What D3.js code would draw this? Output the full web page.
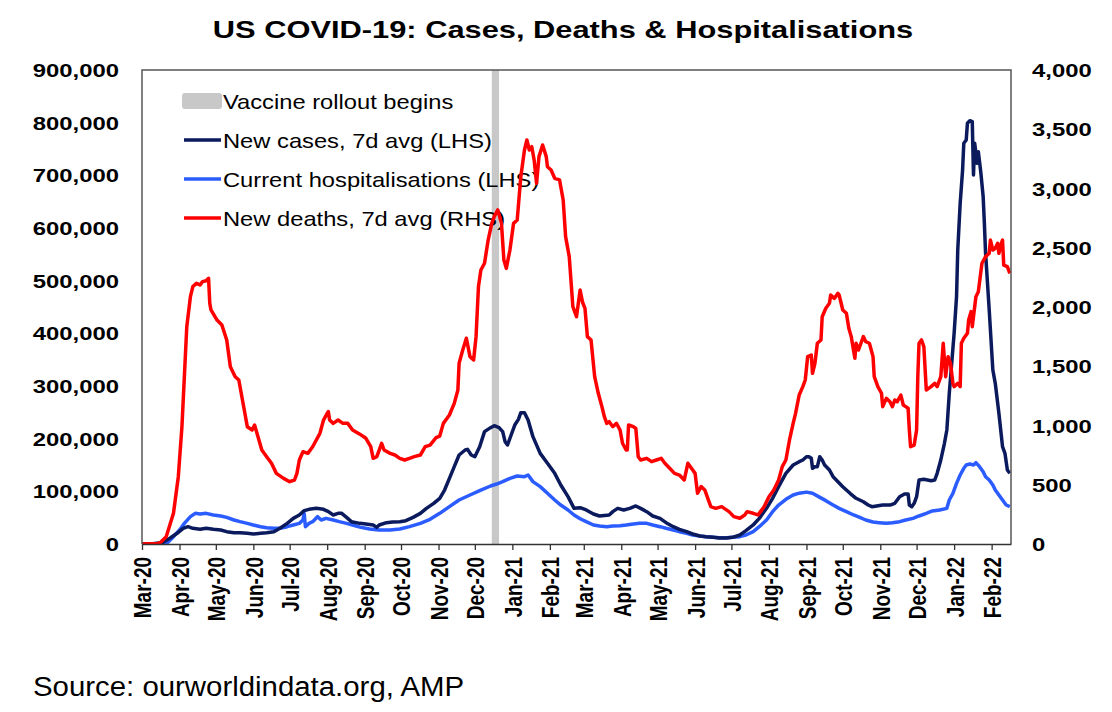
<!DOCTYPE html>
<html><head><meta charset="utf-8">
<script src="https://cdn.jsdelivr.net/npm/d3@7"></script>
<style>
body{margin:0;background:#fff}
svg{display:block}
text{font-family:"Liberation Sans",Arial,sans-serif;fill:#000}
</style>
</head><body>
<svg id="chart" width="1112" height="712"></svg>
<script>
// ---------- DATA ----------
const titleText = "US COVID-19: Cases, Deaths & Hospitalisations";
const sourceText = "Source: ourworldindata.org, AMP";
const leftTicks = [0,100000,200000,300000,400000,500000,600000,700000,800000,900000];
const rightTicks = [0,500,1000,1500,2000,2500,3000,3500,4000];
const dateStart = "2020-03-01";
const dateEnd = "2022-02-17";
const vaccineStart = "2020-12-15";
const vaccineEnd = "2020-12-21";
const legendLabels = ["Vaccine rollout begins","New cases, 7d avg (LHS)","Current hospitalisations (LHS)","New deaths, 7d avg (RHS)"];

// New cases, 7d avg (LHS)
const cases = [
["2020-03-01",0],["2020-03-10",500],["2020-03-18",3000],["2020-03-24",10800],["2020-03-30",20300],
["2020-04-04",29800],["2020-04-08",32900],["2020-04-12",29800],["2020-04-18",27900],["2020-04-23",29800],
["2020-04-29",27900],["2020-05-05",26600],["2020-05-10",23400],["2020-05-16",21500],["2020-05-21",21500],
["2020-05-27",20300],["2020-06-01",19000],["2020-06-07",20300],["2020-06-12",21500],["2020-06-18",23400],
["2020-06-23",29800],["2020-06-29",39200],["2020-07-04",48700],["2020-07-09",55100],["2020-07-13",63300],
["2020-07-17",65800],["2020-07-23",67700],["2020-07-29",65800],["2020-08-02",61400],["2020-08-06",55100],
["2020-08-10",58200],["2020-08-13",58200],["2020-08-17",50600],["2020-08-21",42400],["2020-08-28",39200],
["2020-09-02",38000],["2020-09-08",36100],["2020-09-11",31600],["2020-09-13",36100],["2020-09-19",40500],
["2020-09-24",41800],["2020-09-30",42400],["2020-10-05",44300],["2020-10-11",50600],["2020-10-17",58200],
["2020-10-22",67700],["2020-10-28",77200],["2020-11-02",86700],["2020-11-06",102500],["2020-11-10",124700],
["2020-11-14",146800],["2020-11-18",169000],["2020-11-23",178500],["2020-11-25",179700],["2020-11-28",169000],
["2020-12-01",165800],["2020-12-05",184800],["2020-12-09",213300],["2020-12-14",220900],["2020-12-17",224700],
["2020-12-21",220900],["2020-12-24",213300],["2020-12-26",194300],["2020-12-28",188000],["2020-12-31",207000],
["2021-01-03",225900],["2021-01-06",236700],["2021-01-08",249400],["2021-01-11",249400],["2021-01-14",235400],
["2021-01-18",203800],["2021-01-24",172100],["2021-01-30",153200],["2021-02-05",134200],["2021-02-10",112000],
["2021-02-16",89900],["2021-02-21",67700],["2021-02-26",69000],["2021-03-03",64600],["2021-03-09",57000],
["2021-03-14",53200],["2021-03-22",55100],["2021-03-25",61400],["2021-03-29",67700],["2021-04-03",64600],
["2021-04-08",67700],["2021-04-13",72200],["2021-04-17",67700],["2021-04-22",61400],["2021-04-27",53200],
["2021-05-03",48700],["2021-05-08",40500],["2021-05-14",32900],["2021-05-19",27900],["2021-05-25",23400],
["2021-05-30",19000],["2021-06-05",15200],["2021-06-10",13900],["2021-06-16",12700],["2021-06-21",11400],
["2021-06-27",11400],["2021-07-02",12700],["2021-07-08",17100],["2021-07-13",25300],["2021-07-19",36100],
["2021-07-24",48700],["2021-07-30",67700],["2021-08-04",86700],["2021-08-09",108900],["2021-08-15",134200],
["2021-08-21",150000],["2021-08-26",156300],["2021-08-29",159500],["2021-09-01",165800],["2021-09-03",165800],
["2021-09-05",162700],["2021-09-06",143700],["2021-09-08",146800],["2021-09-10",146800],["2021-09-12",165800],
["2021-09-14",159500],["2021-09-16",150000],["2021-09-20",140500],["2021-09-23",127800],["2021-09-27",118300],
["2021-10-01",108800],["2021-10-07",96300],["2021-10-12",86800],["2021-10-18",80300],["2021-10-22",74000],
["2021-10-25",70800],["2021-10-29",72200],["2021-11-03",74000],["2021-11-09",74000],["2021-11-13",77300],
["2021-11-17",89800],["2021-11-21",94900],["2021-11-24",94900],["2021-11-25",74000],["2021-11-27",70800],
["2021-11-29",77300],["2021-12-01",89800],["2021-12-03",121500],["2021-12-07",122800],["2021-12-13",120200],
["2021-12-16",121500],["2021-12-18",134200],["2021-12-21",159500],["2021-12-24",191200],["2021-12-26",216500],
["2021-12-28",286100],["2021-12-30",343100],["2022-01-01",400100],["2022-01-03",469600],["2022-01-04",558200],
["2022-01-06",646900],["2022-01-08",710100],["2022-01-09",760800],["2022-01-11",767100],["2022-01-12",798800],
["2022-01-14",803800],["2022-01-16",801800],["2022-01-17",700600],["2022-01-18",760800],["2022-01-19",741800],
["2022-01-20",722800],["2022-01-21",744900],["2022-01-23",706900],["2022-01-25",659500],["2022-01-26",608800],
["2022-01-27",551900],["2022-01-30",444300],["2022-02-02",330400],["2022-02-04",305100],["2022-02-07",248100],
["2022-02-10",184800],["2022-02-12",172200],["2022-02-14",140500],["2022-02-16",134200]
];

// Current hospitalisations (LHS)
const hospital = [
["2020-03-01",0],["2020-03-21",0],["2020-03-27",13900],["2020-04-01",26600],["2020-04-05",39200],
["2020-04-10",51900],["2020-04-14",58200],["2020-04-18",57000],["2020-04-23",58200],["2020-04-29",55100],
["2020-05-05",53200],["2020-05-10",50600],["2020-05-16",45600],["2020-05-21",42400],["2020-05-27",39200],
["2020-06-01",36100],["2020-06-07",32900],["2020-06-12",31000],["2020-06-18",29800],["2020-06-23",29800],
["2020-06-29",32900],["2020-07-04",36100],["2020-07-09",39200],["2020-07-12",45600],["2020-07-13",58200],
["2020-07-14",32900],["2020-07-17",39200],["2020-07-20",42400],["2020-07-24",51900],["2020-07-27",45600],
["2020-07-31",48700],["2020-08-06",45600],["2020-08-11",42400],["2020-08-17",39200],["2020-08-22",36100],
["2020-08-28",32000],["2020-09-05",28500],["2020-09-13",26600],["2020-09-22",26600],["2020-09-30",28500],
["2020-10-08",32900],["2020-10-17",39200],["2020-10-25",46800],["2020-11-02",58200],["2020-11-10",70900],
["2020-11-18",83500],["2020-11-27",93000],["2020-12-05",101300],["2020-12-14",110100],["2020-12-19",113900],
["2020-12-24",118400],["2020-12-30",124700],["2021-01-05",129100],["2021-01-11",127900],["2021-01-14",131000],
["2021-01-18",118400],["2021-01-24",108900],["2021-01-30",96200],["2021-02-05",83500],["2021-02-10",74000],
["2021-02-16",64600],["2021-02-21",55100],["2021-02-26",48000],["2021-03-03",42400],["2021-03-09",36100],
["2021-03-14",34200],["2021-03-20",32900],["2021-03-25",34200],["2021-03-31",34800],["2021-04-05",36100],
["2021-04-11",38000],["2021-04-16",39200],["2021-04-22",39200],["2021-04-27",36100],["2021-05-03",32900],
["2021-05-08",29800],["2021-05-14",26600],["2021-05-19",23400],["2021-05-25",20300],["2021-05-30",17100],
["2021-06-05",15200],["2021-06-10",13900],["2021-06-16",12700],["2021-06-21",12000],["2021-06-27",12000],
["2021-07-02",12700],["2021-07-08",13900],["2021-07-13",17100],["2021-07-19",23400],["2021-07-24",32900],
["2021-07-30",45600],["2021-08-04",61400],["2021-08-09",74000],["2021-08-15",84800],["2021-08-21",93000],
["2021-08-26",96500],["2021-09-01",98500],["2021-09-06",96200],["2021-09-11",89900],["2021-09-17",82300],
["2021-09-23",74000],["2021-09-28",67700],["2021-10-04",61400],["2021-10-10",55100],["2021-10-15",50600],
["2021-10-20",45600],["2021-10-26",41800],["2021-10-31",40500],["2021-11-06",39200],["2021-11-11",40500],
["2021-11-17",42400],["2021-11-22",45600],["2021-11-28",48700],["2021-12-03",53200],["2021-12-09",58200],
["2021-12-14",62700],["2021-12-20",64600],["2021-12-26",67700],["2021-12-28",83500],["2021-12-31",96200],
["2022-01-03",115200],["2022-01-06",131000],["2022-01-09",143700],["2022-01-11",150000],["2022-01-14",151900],
["2022-01-17",150000],["2022-01-19",154400],["2022-01-22",146800],["2022-01-25",137300],["2022-01-27",127800],
["2022-01-30",121500],["2022-02-02",112000],["2022-02-04",102500],["2022-02-07",93000],["2022-02-10",83500],
["2022-02-13",74000],["2022-02-16",70900]
];

// New deaths, 7d avg (RHS)
const deaths = [
["2020-03-01",0],["2020-03-14",5],["2020-03-16",11],["2020-03-21",62],["2020-03-27",259],["2020-03-31",568],
["2020-04-03",990],["2020-04-05",1412],["2020-04-07",1834],["2020-04-10",2087],["2020-04-12",2172],
["2020-04-15",2200],["2020-04-18",2186],["2020-04-20",2214],["2020-04-23",2222],["2020-04-25",2242],
["2020-04-26",2031],["2020-04-27",1975],["2020-05-02",1890],["2020-05-06",1848],["2020-05-10",1722],
["2020-05-13",1496],["2020-05-17",1412],["2020-05-20",1384],["2020-05-23",1215],["2020-05-25",1103],
["2020-05-27",990],["2020-05-31",962],["2020-06-02",1004],["2020-06-04",934],["2020-06-08",793],
["2020-06-12",737],["2020-06-16",681],["2020-06-20",596],["2020-06-26",554],["2020-07-01",526],
["2020-07-05",540],["2020-07-07",596],["2020-07-09",709],["2020-07-12",779],["2020-07-16",765],
["2020-07-20",821],["2020-07-26",934],["2020-07-29",1046],["2020-08-01",1103],["2020-08-02",1117],
["2020-08-03",1046],["2020-08-06",1018],["2020-08-10",1046],["2020-08-14",1018],["2020-08-18",1018],
["2020-08-22",962],["2020-08-28",927],["2020-09-02",892],["2020-09-06",821],["2020-09-08",723],
["2020-09-11",737],["2020-09-13",793],["2020-09-15",850],["2020-09-17",793],["2020-09-22",765],
["2020-09-26",751],["2020-09-30",723],["2020-10-04",709],["2020-10-08",723],["2020-10-12",737],
["2020-10-17",751],["2020-10-21",821],["2020-10-25",835],["2020-10-30",897],["2020-11-02",911],
["2020-11-05",1018],["2020-11-10",1089],["2020-11-14",1187],["2020-11-17",1300],["2020-11-18",1525],
["2020-11-21",1637],["2020-11-24",1736],["2020-11-27",1581],["2020-11-30",1553],["2020-12-02",1750],
["2020-12-04",2172],["2020-12-06",2312],["2020-12-09",2369],["2020-12-12",2565],["2020-12-15",2706],
["2020-12-17",2762],["2020-12-20",2819],["2020-12-23",2706],["2020-12-25",2397],["2020-12-27",2326],
["2020-12-30",2481],["2021-01-02",2706],["2021-01-05",2734],["2021-01-08",3100],["2021-01-11",3325],
["2021-01-13",3409],["2021-01-15",3325],["2021-01-17",3353],["2021-01-19",3241],["2021-01-21",3044],
["2021-01-23",3269],["2021-01-26",3367],["2021-01-29",3269],["2021-01-30",3184],["2021-02-02",3156],
["2021-02-05",3086],["2021-02-09",3072],["2021-02-12",2903],["2021-02-14",2594],["2021-02-17",2425],
["2021-02-20",2003],["2021-02-23",1918],["2021-02-26",2143],["2021-02-28",2040],["2021-03-02",1989],
["2021-03-04",1750],["2021-03-07",1722],["2021-03-10",1412],["2021-03-13",1272],["2021-03-16",1159],
["2021-03-18",1075],["2021-03-20",1018],["2021-03-22",1032],["2021-03-25",990],["2021-03-28",1018],
["2021-03-31",962],["2021-04-02",850],["2021-04-05",793],["2021-04-06",793],["2021-04-07",1004],
["2021-04-11",990],["2021-04-13",976],["2021-04-15",737],["2021-04-17",709],["2021-04-22",723],
["2021-04-26",695],["2021-04-30",709],["2021-05-04",723],["2021-05-07",681],["2021-05-11",639],
["2021-05-15",596],["2021-05-19",582],["2021-05-23",540],["2021-05-26",681],["2021-05-29",639],
["2021-06-01",596],["2021-06-03",428],["2021-06-06",484],["2021-06-09",456],["2021-06-12",371],
["2021-06-14",315],["2021-06-18",301],["2021-06-23",315],["2021-06-25",301],["2021-06-29",273],
["2021-07-03",231],["2021-07-08",217],["2021-07-12",245],["2021-07-14",273],["2021-07-19",259],
["2021-07-23",245],["2021-07-25",273],["2021-07-28",315],["2021-08-01",399],["2021-08-05",456],
["2021-08-09",540],["2021-08-12",653],["2021-08-15",709],["2021-08-18",878],["2021-08-21",1018],
["2021-08-23",1103],["2021-08-26",1258],["2021-08-29",1328],["2021-08-31",1384],["2021-09-02",1581],
["2021-09-05",1595],["2021-09-06",1440],["2021-09-08",1525],["2021-09-10",1694],["2021-09-13",1722],
["2021-09-14",1918],["2021-09-17",1989],["2021-09-20",2031],["2021-09-21",2101],["2021-09-24",2073],
["2021-09-27",2115],["2021-09-28",2101],["2021-10-01",1975],["2021-10-04",1947],["2021-10-06",1820],
["2021-10-08",1750],["2021-10-11",1567],["2021-10-12",1694],["2021-10-14",1637],["2021-10-16",1694],
["2021-10-18",1750],["2021-10-20",1707],["2021-10-23",1694],["2021-10-26",1581],["2021-10-27",1412],
["2021-10-30",1328],["2021-11-02",1272],["2021-11-03",1159],["2021-11-06",1229],["2021-11-09",1201],
["2021-11-11",1159],["2021-11-13",1215],["2021-11-15",1201],["2021-11-18",1257],["2021-11-20",1173],
["2021-11-22",1159],["2021-11-24",1145],["2021-11-25",962],["2021-11-26",821],["2021-11-29",835],
["2021-12-01",962],["2021-12-02",1412],["2021-12-03",1694],["2021-12-05",1722],["2021-12-07",1665],
["2021-12-09",1300],["2021-12-13",1328],["2021-12-16",1356],["2021-12-18",1328],["2021-12-21",1412],
["2021-12-23",1694],["2021-12-25",1412],["2021-12-27",1581],["2021-12-29",1525],["2021-12-31",1356],
["2022-01-01",1328],["2022-01-04",1356],["2022-01-06",1328],["2022-01-07",1694],["2022-01-09",1736],
["2022-01-12",1778],["2022-01-13",1890],["2022-01-15",1961],["2022-01-16",1834],["2022-01-19",2087],
["2022-01-21",2129],["2022-01-24",2369],["2022-01-27",2425],["2022-01-30",2453],["2022-01-31",2565],
["2022-02-02",2481],["2022-02-04",2495],["2022-02-06",2537],["2022-02-07",2453],["2022-02-09",2537],
["2022-02-10",2565],["2022-02-11",2354],["2022-02-14",2340],["2022-02-16",2284]
];

// ---------- STYLE ----------
const COL_CASES = "#0b1a5c", COL_HOSP = "#2a5cff", COL_DEATH = "#ff0000", COL_VAX = "#c8c8c8";
const M = {l:142, r:1011, t:70, b:544};
const LW = 3.5;

const svg = d3.select("#chart");
svg.append("rect").attr("width",1112).attr("height",712).attr("fill","#fff");

const parse = d3.utcParse("%Y-%m-%d");
const x = d3.scaleUtc().domain([parse(dateStart), parse(dateEnd)]).range([M.l, M.r]);
const yL = d3.scaleLinear().domain([0, 900000]).range([M.b, M.t]);
const yR = d3.scaleLinear().domain([0, 4000]).range([M.b, M.t]);

// title
svg.append("text").attr("transform", "translate(563,38) scale(1.34,1)")
  .attr("text-anchor","middle").attr("font-size",23).attr("font-weight","bold").text(titleText);

// vaccine band
svg.append("rect").attr("x", x(parse(vaccineStart))).attr("y", M.t)
  .attr("width", x(parse(vaccineEnd)) - x(parse(vaccineStart))).attr("height", M.b - M.t)
  .attr("fill", COL_VAX);

// clip
svg.append("clipPath").attr("id","clip").append("rect")
  .attr("x",M.l).attr("y",M.t-2).attr("width",M.r-M.l).attr("height",M.b-M.t+2);

// legend
const lg = svg.append("g");
const legY = [101,140,179,218];
lg.append("rect").attr("x",182).attr("y",legY[0]-8).attr("width",40).attr("height",16).attr("rx",3).attr("fill",COL_VAX);
[COL_CASES, COL_HOSP, COL_DEATH].forEach((c,i)=>{
  lg.append("line").attr("x1",184).attr("x2",221).attr("y1",legY[i+1]).attr("y2",legY[i+1])
    .attr("stroke",c).attr("stroke-width",LW);
});
legendLabels.forEach((t,i)=>{
  lg.append("text").attr("transform",`translate(223,${legY[i]+7.5}) scale(1.13,1)`)
    .attr("font-size",21).text(t);
});

// lines
const lineL = d3.line().x(d=>x(parse(d[0]))).y(d=>yL(d[1]));
const lineR = d3.line().x(d=>x(parse(d[0]))).y(d=>yR(d[1]));
const g = svg.append("g").attr("clip-path","url(#clip)");
g.append("path").datum(hospital).attr("d",lineL).attr("fill","none").attr("stroke",COL_HOSP).attr("stroke-width",LW).attr("stroke-linejoin","round");
g.append("path").datum(cases).attr("d",lineL).attr("fill","none").attr("stroke",COL_CASES).attr("stroke-width",LW).attr("stroke-linejoin","round");
g.append("path").datum(deaths).attr("d",lineR).attr("fill","none").attr("stroke",COL_DEATH).attr("stroke-width",LW).attr("stroke-linejoin","round");

// frame
svg.append("path").attr("d",`M${M.l},${M.b}V${M.t}H${M.r}V${M.b}`).attr("fill","none").attr("stroke","#555").attr("stroke-width",1.5);

// left axis
const axL = svg.append("g").attr("transform",`translate(${M.l},0)`)
  .call(d3.axisLeft(yL).tickValues(leftTicks).tickSize(0).tickFormat(d3.format(",")));
axL.select(".domain").remove();
axL.selectAll("text").attr("x",0).attr("dy","0.36em")
  .attr("transform",`translate(-23,0) scale(1.29,1)`)
  .attr("font-size",18.5).attr("font-weight","bold").attr("font-family",'"Liberation Sans",Arial,sans-serif').attr("fill","#000");

// right axis
const axR = svg.append("g").attr("transform",`translate(${M.r},0)`)
  .call(d3.axisRight(yR).tickValues(rightTicks).tickSize(0).tickFormat(d3.format(",")));
axR.select(".domain").remove();
axR.selectAll("text").attr("x",0).attr("dy","0.36em")
  .attr("transform",`translate(21,0) scale(1.29,1)`)
  .attr("font-size",18.5).attr("font-weight","bold").attr("font-family",'"Liberation Sans",Arial,sans-serif').attr("fill","#000");

// bottom axis
const months = d3.utcMonth.range(parse(dateStart), parse(dateEnd));
const axB = svg.append("g").attr("transform",`translate(0,${M.b})`)
  .call(d3.axisBottom(x).tickValues(months).tickSize(6).tickSizeOuter(0).tickFormat(d3.utcFormat("%b-%y")));
axB.select(".domain").attr("stroke","#333").attr("stroke-width",1.5);
axB.selectAll(".tick line").attr("stroke","#333").attr("stroke-width",1.3);
axB.selectAll("text").attr("y",0).attr("x",-13).attr("dy","0.36em")
  .attr("text-anchor","end")
  .attr("transform","rotate(-90) scale(1,1.3)")
  .attr("font-size",19).attr("font-weight","bold").attr("font-family",'"Liberation Sans",Arial,sans-serif').attr("fill","#000");

// source
svg.append("text").attr("transform","translate(33,696) scale(1.05,1)").attr("font-size",28).text(sourceText);
</script>
</body></html>
